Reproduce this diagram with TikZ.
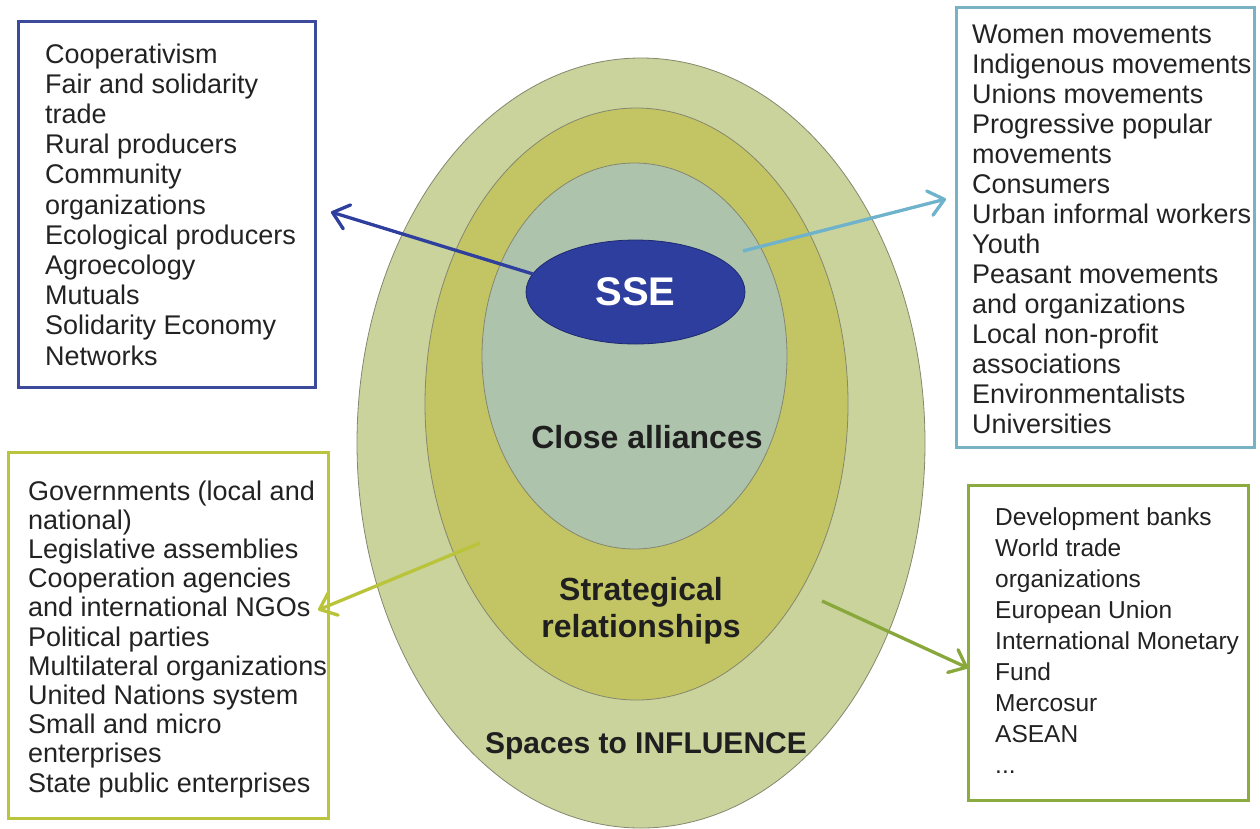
\documentclass[tikz,border=0pt]{standalone}
\usepackage{fontspec}
\setmainfont{Liberation Sans}
\usetikzlibrary{shapes.geometric,arrows.meta}
\definecolor{outerc}{HTML}{C9D39B}
\definecolor{midc}{HTML}{C3C564}
\definecolor{innerc}{HTML}{AEC3AC}
\definecolor{ringline}{HTML}{85876E}
\definecolor{ssec}{HTML}{2D3E9E}
\definecolor{sseline}{HTML}{1E2B70}
\definecolor{blueb}{HTML}{3C4A9C}
\definecolor{cyanb}{HTML}{78B2C4}
\definecolor{yellowb}{HTML}{BAC43C}
\definecolor{greenb}{HTML}{8BAA40}
\definecolor{bluea}{HTML}{2E3F9E}
\definecolor{cyana}{HTML}{6EB2CB}
\definecolor{yellowa}{HTML}{BAC43A}
\definecolor{greena}{HTML}{88A83C}
\definecolor{txt}{HTML}{222222}
\newcommand\linestack[1]{\vtop{\let\\\cr\halign{##\hfil\cr#1\crcr}}}
\newcommand\centerstack[1]{\vtop{\let\\\cr\halign{\hfil##\hfil\cr#1\crcr}}}
\begin{document}
\begin{tikzpicture}[x=1pt,y=-1pt,
  ring/.style={ellipse, draw=ringline, line width=0.8pt, inner sep=0pt, outer sep=0pt},
  listbox/.style={rectangle, line width=3pt, inner sep=0pt, outer sep=0pt, anchor=north west},
  listtext/.style={anchor=base west, inner sep=0pt, text=txt},
  lbl/.style={anchor=base, inner sep=0pt, text=black!88, font=\bfseries\fontsize{32}{37}\selectfont},
  arr/.style={line width=3.3pt, -{Straight Barb[length=15pt,width=25pt,round]}}]
\useasboundingbox (0,0) rectangle (1260,828);
% rings
\node[ring, fill=outerc, minimum width=568pt, minimum height=770pt] (outer) at (641,443) {};
\node[ring, fill=midc, minimum width=423pt, minimum height=592pt] (mid) at (636.5,404) {};
\node[ring, fill=innerc, minimum width=305pt, minimum height=386pt] (inner) at (634.5,356) {};
% arrows (under SSE)
\coordinate (cs) at (743,251);
\coordinate (ce) at (946,199);
\coordinate (ys) at (480,543);
\coordinate (ye) at (318,610);
\coordinate (gs) at (822,601);
\coordinate (ge) at (968,668);
\coordinate (be) at (331,212);
\draw[arr, draw=cyana] (cs) -- (ce);
\draw[arr, draw=yellowa] (ys) -- (ye);
\draw[arr, draw=greena] (gs) -- (ge);
% SSE
\node[ellipse, fill=ssec, draw=sseline, line width=0.8pt, minimum width=219pt, minimum height=104pt, inner sep=0pt, text=white, font=\bfseries\fontsize{40}{44}\selectfont] (sse) at (635.5,292) {SSE};
\draw[arr, draw=bluea] (sse.170) -- (be);
% ring labels
\node[lbl] (close) at (647,448.5) {Close alliances};
\node[lbl] (strat) at (641,600.5) {\centerstack{Strategical\\relationships}};
\node[lbl, font=\bfseries\fontsize{30}{34}\selectfont] (spaces) at (646,753) {Spaces to INFLUENCE};
% boxes
\node[listbox, draw=blueb, minimum width=297pt, minimum height=366pt] (b1) at (18,21) {};
\node[listbox, draw=cyanb, minimum width=298pt, minimum height=440pt] (b2) at (956,7) {};
\node[listbox, draw=yellowb, minimum width=320pt, minimum height=366pt] (b3) at (8,452) {};
\node[listbox, draw=greenb, minimum width=280pt, minimum height=315pt] (b4) at (968,485) {};
% box texts
\node[listtext, font=\fontsize{27}{30.2}\selectfont] (t1) at (45,63) {\linestack{Cooperativism\\Fair and solidarity\\trade\\Rural producers\\Community\\organizations\\Ecological producers\\Agroecology\\Mutuals\\Solidarity Economy\\Networks}};
\node[listtext, font=\fontsize{27}{30}\selectfont] (t2) at (972,43) {\linestack{Women movements\\Indigenous movements\\Unions movements\\Progressive popular\\movements\\Consumers\\Urban informal workers\\Youth\\Peasant movements\\and organizations\\Local non-profit\\associations\\Environmentalists\\Universities}};
\node[listtext, font=\fontsize{27}{29.2}\selectfont] (t3) at (28,500) {\linestack{Governments (local and\\national)\\Legislative assemblies\\Cooperation agencies\\and international NGOs\\Political parties\\Multilateral organizations\\United Nations system\\Small and micro\\enterprises\\State public enterprises}};
\node[listtext, font=\fontsize{24.5}{31.1}\selectfont] (t4) at (995,525) {\linestack{Development banks\\World trade\\organizations\\European Union\\International Monetary\\Fund\\Mercosur\\ASEAN\\...}};
\end{tikzpicture}
\end{document}
